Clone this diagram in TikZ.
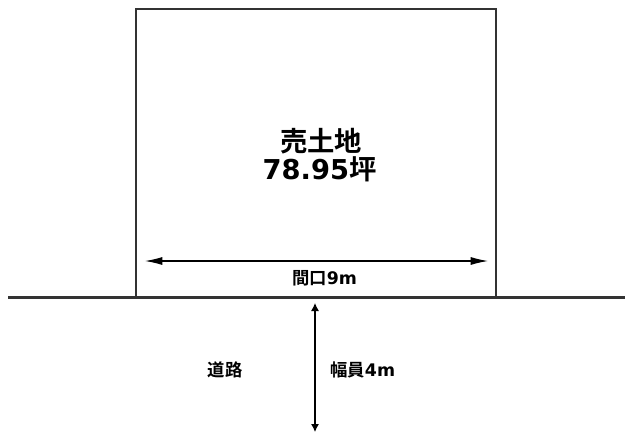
\documentclass[tikz,border=0pt]{standalone}
\usepackage{fontspec}
\setmainfont{Noto Sans CJK JP}[BoldFont={Noto Sans CJK JP Bold}]
\newfontfamily\lat{DejaVu Sans}[BoldFont={DejaVu Sans Bold}]
\usetikzlibrary{arrows.meta}
\begin{document}
\begin{tikzpicture}[x=0.75pt,y=-0.75pt,
  edge/.style={line width=1.6pt, draw=black!80},
  dim/.style={line width=0.8pt, {Latex[length=13pt,width=6pt]}-{Latex[length=13pt,width=6pt]}},
  vdim/.style={line width=0.8pt, {Latex[length=6pt,width=6pt]}-{Latex[length=6pt,width=6pt]}},
  lbl/.style={font=\bfseries\fontsize{13}{15}\selectfont, inner sep=0pt},
  big/.style={font=\bfseries\fontsize{20.5}{22}\selectfont, inner sep=0pt, align=center}]
\useasboundingbox (0,0) rectangle (629,440);
\draw[edge] (136,298) -- (136,9) -- (496,9) -- (496,298);
\draw[edge] (8,297.5) -- (625,297.5);
\coordinate (hl) at (145,261);
\coordinate (hr) at (488,261);
\draw[dim] (hl) -- (hr);
\node[lbl] (w) at (324.5,278.5) {間口{\lat 9m}};
\coordinate (vt) at (315,303);
\coordinate (vb) at (315,432);
\draw[vdim] (vt) -- (vb);
\node[lbl, anchor=west] (rw) at (330,370) {幅員{\lat 4m}};
\node[lbl] (road) at (225,369.5) {道路};
\node[big] (t1) at (321,141) {売土地};
\node[big] (t2) at (319.5,169) {{\lat 78.95}坪};
\end{tikzpicture}
\end{document}
